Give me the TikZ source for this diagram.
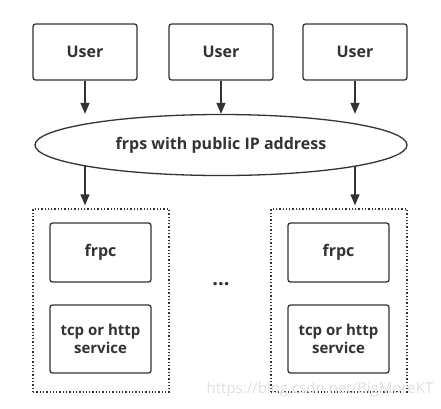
\documentclass[tikz,border=0pt]{standalone}
\usepackage{fontspec}
\setsansfont{Open Sans}
\usetikzlibrary{positioning,shapes.geometric,arrows.meta}
\definecolor{ink}{HTML}{333333}

\begin{document}
\begin{tikzpicture}[x=1pt,y=-1pt
	,every node/.append style={font=\sffamily\bfseries\fontsize{16}{19}\selectfont, text=ink}
	,box/.style={draw=ink, line width=1.3pt, rounded corners=2.5pt, minimum width=104pt, minimum height=56pt}
	,inner/.style={box, minimum width=101pt, minimum height=#1}
	,group/.style={draw=ink, line width=1.3pt, dotted, minimum width=136pt, minimum height=183pt}
	,arr/.style={draw=ink, line width=1.3pt, -{Triangle[length=11pt,width=9pt]}}
]
	\useasboundingbox (0,0) rectangle (441,408);
	% users
	\node [box] (U1) at (85,52) {User};
	\node [box] (U2) at (221,52) {User};
	\node [box] (U3) at (355,52) {User};
	% server
	\node [ellipse, draw=ink, line width=1.3pt, minimum width=372pt, minimum height=61pt, inner sep=0pt] (S) at (221,145) {frps with public IP address};
	% clients
	\node [group] (G1) at (101,300.5) {};
	\node [group] (G2) at (339,300.5) {};
	\node [inner=59pt] (C1) at (100.5,252.5) {frpc};
	\node [inner=59pt] (C2) at (338.5,252.5) {frpc};
	\node [inner=68pt, align=center, font=\sffamily\bfseries\fontsize{15}{18}\selectfont] (T1) at (100.5,339) {tcp or http\\service};
	\node [inner=68pt, align=center, font=\sffamily\bfseries\fontsize{15}{18}\selectfont] (T2) at (338.5,339) {tcp or http\\service};
	\node [font=\sffamily\bfseries\fontsize{20}{20}\selectfont] (D) at (221,284) {...};
	\node [font=\sffamily\fontsize{15}{17}\selectfont, text=black!12] (W) at (320,390) {https://blog.csdn.net/BigMoreKT};

	\draw [arr] (U1) -- (U1 |- S.north);
	\draw [arr] (U2) -- (S.north);
	\draw [arr] (U3) -- (U3 |- S.north);
	\draw [arr, shorten >=3pt] ([yshift=-21pt]S.center -| U1) -- (U1 |- G1.north);
	\draw [arr, shorten >=3pt] ([yshift=-21pt]S.center -| U3) -- (U3 |- G2.north);
\end{tikzpicture}
\end{document}
